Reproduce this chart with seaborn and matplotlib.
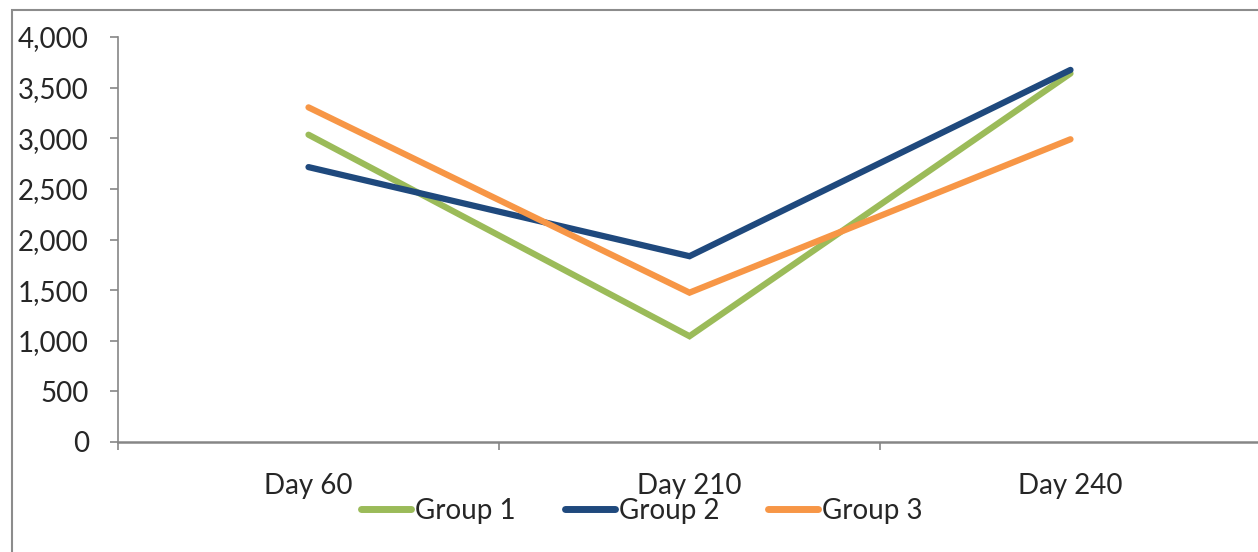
import matplotlib
matplotlib.use("Agg")
import matplotlib.pyplot as plt
import matplotlib.patches as mpatches
import pandas as pd
import seaborn as sns

days = ["Day 60", "Day 210", "Day 240"]
group_1 = [3035, 1045, 3640]
group_2 = [2715, 1835, 3675]
group_3 = [3305, 1475, 2990]
groups = ["Group 1", "Group 2", "Group 3"]
colors = ["#9BBB59", "#1F497D", "#F79646"]
y_ticks = [0, 500, 1000, 1500, 2000, 2500, 3000, 3500, 4000]

sns.set_style("white")
plt.rcParams["font.family"] = ["Lato", "DejaVu Sans"]

rows = []
for name, vals in zip(groups, [group_1, group_2, group_3]):
    for i, (d, v) in enumerate(zip(days, vals)):
        rows.append({"pos": i, "day": d, "value": v, "group": name})
df = pd.DataFrame(rows)

fig = plt.figure(figsize=(12.58, 5.52), dpi=100)
ax = fig.add_axes([118 / 1258, 1 - 442 / 552, (1261 - 118) / 1258, (442 - 37) / 552])

sns.lineplot(data=df, x="pos", y="value", hue="group", hue_order=groups,
             palette=colors, linewidth=4.5, ax=ax, legend=False,
             solid_capstyle="round", solid_joinstyle="miter")

ax.set_xlim(-0.5, 2.5)
ax.set_ylim(0, 4000)
ax.set_xlabel("")
ax.set_ylabel("")

axis_color = "#868686"
for side in ["top", "right"]:
    ax.spines[side].set_visible(False)
ax.spines["left"].set_color(axis_color)
ax.spines["left"].set_linewidth(1.2)
ax.spines["bottom"].set_color(axis_color)
ax.spines["bottom"].set_linewidth(1.8)

ax.set_yticks(y_ticks)
ax.set_yticklabels([f"{t:,}" for t in y_ticks])
ax.tick_params(axis="y", direction="out", length=6, width=1.2, color=axis_color,
               pad=15, labelsize=20, left=True)

ax.set_xticks(range(len(days)))
ax.set_xticklabels(days)
ax.set_xticks([-0.5, 0.5, 1.5, 2.5], minor=True)
ax.tick_params(axis="x", which="major", length=0, pad=22, labelsize=20)
ax.tick_params(axis="x", which="minor", direction="out", length=6, width=1.2,
               color=axis_color, bottom=True)

handles = [plt.Line2D([], [], color=c, linewidth=5, solid_capstyle="round")
           for c in colors]
fig.legend(handles, groups, loc="center", bbox_to_anchor=(642 / 1258, 1 - 511 / 552),
           ncol=3, frameon=False, fontsize=20, handlelength=1.8,
           handletextpad=0.15, columnspacing=1.75)

border = mpatches.Rectangle((12 / 1258, -0.1), 1.2, 1 - 9.5 / 552 + 0.1,
                            transform=fig.transFigure, fill=False,
                            edgecolor="#8C8C8C", linewidth=1.5)
fig.patches.append(border)

fig.savefig("out.png", dpi=100)
